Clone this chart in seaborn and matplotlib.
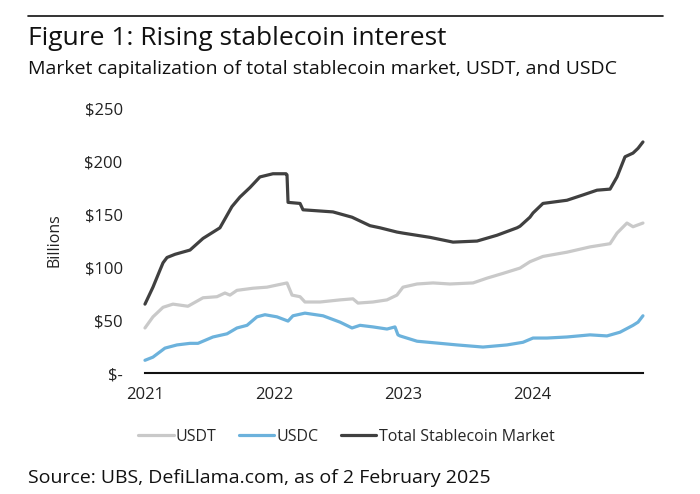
import numpy as np
import pandas as pd
import seaborn as sns
import matplotlib.pyplot as plt

# x positions in years (chart axis runs 2021 -> end of data)
total_x = [2021.000, 2021.062, 2021.116, 2021.140, 2021.171, 2021.233, 2021.349, 2021.450,
           2021.581, 2021.674, 2021.736, 2021.814, 2021.891, 2021.992, 2022.093, 2022.101,
           2022.109, 2022.202, 2022.225, 2022.457, 2022.605, 2022.744, 2022.822, 2022.953,
           2023.000, 2023.209, 2023.388, 2023.574, 2023.729, 2023.884, 2023.907, 2023.984,
           2024.008, 2024.085, 2024.271, 2024.395, 2024.504, 2024.605, 2024.659, 2024.721,
           2024.783, 2024.822, 2024.860]
total_y = [65, 81, 97, 104, 109, 112, 116, 127,
           137, 157, 166, 175, 185, 188, 188, 187,
           161, 160, 154, 152, 147, 139, 137, 133,
           132, 128, 123.5, 124.5, 130, 137, 138.5, 147,
           151, 160, 163, 168, 172.5, 173.5, 185, 204,
           207.5, 212, 218]

usdt_x = [2021.000, 2021.062, 2021.140, 2021.217, 2021.333, 2021.450, 2021.558, 2021.620,
          2021.659, 2021.713, 2021.837, 2021.946, 2022.023, 2022.101, 2022.140, 2022.202,
          2022.240, 2022.357, 2022.512, 2022.612, 2022.651, 2022.767, 2022.876, 2022.953,
          2023.000, 2023.109, 2023.233, 2023.364, 2023.543, 2023.651, 2023.775, 2023.907,
          2023.984, 2024.085, 2024.271, 2024.450, 2024.605, 2024.659, 2024.736, 2024.783,
          2024.860]
usdt_y = [42.5, 53, 62, 65, 63, 71, 72, 75.5,
          73.5, 78, 80, 81, 83, 85, 73.5, 72,
          67, 67, 69, 70, 66, 67, 69, 73.5,
          81, 84, 85, 84, 85, 89.5, 94, 99,
          105, 110, 114, 119, 122, 132, 141.5, 138,
          141.5]

usdc_x = [2021.000, 2021.062, 2021.155, 2021.248, 2021.349, 2021.411, 2021.527, 2021.636,
          2021.713, 2021.791, 2021.868, 2021.930, 2022.023, 2022.109, 2022.147, 2022.240,
          2022.380, 2022.512, 2022.605, 2022.667, 2022.767, 2022.876, 2022.938, 2022.961,
          2022.977, 2023.109, 2023.287, 2023.419, 2023.620, 2023.806, 2023.930, 2024.008,
          2024.116, 2024.271, 2024.450, 2024.581, 2024.682, 2024.783, 2024.822, 2024.860]
usdc_y = [12, 15, 23.5, 26.5, 28, 28, 34, 37,
          42.5, 45, 53, 55, 53, 49, 54, 56.5,
          54, 48, 42.5, 45, 43.5, 41.5, 43.5, 36,
          35, 30, 28, 26.5, 24.5, 26.5, 29, 33,
          33, 34, 36, 35, 38.5, 45, 48, 54]

series_names = ["USDT", "USDC", "Total Stablecoin Market"]
colors = ["#c9c9c9", "#6cb2dc", "#404040"]
y_ticks = [0, 50, 100, 150, 200, 250]
y_labels = ["$-", "$50", "$100", "$150", "$200", "$250"]
x_ticks = [2021, 2022, 2023, 2024]

df = pd.concat([
    pd.DataFrame({"year": usdt_x, "value": usdt_y, "series": series_names[0]}),
    pd.DataFrame({"year": usdc_x, "value": usdc_y, "series": series_names[1]}),
    pd.DataFrame({"year": total_x, "value": total_y, "series": series_names[2]}),
])

sns.set_style("white")
plt.rcParams['font.family'] = ['Open Sans', 'DejaVu Sans']

fig = plt.figure(figsize=(7, 4.94), dpi=100)
ax = fig.add_axes([0.2071, 0.2449, 0.7114, 0.5364])

sns.lineplot(data=df, x="year", y="value", hue="series", hue_order=series_names,
             palette=colors, linewidth=2.3, estimator=None, sort=False, ax=ax)

ax.set_xlim(min(total_x), max(total_x))
ax.set_ylim(0, 250)
ax.set_yticks(y_ticks)
ax.set_yticklabels(y_labels)
ax.set_xticks(x_ticks)
ax.set_xticklabels([str(t) for t in x_ticks])
ax.tick_params(axis="both", length=0, labelsize=12, colors="#222222")
ax.tick_params(axis="y", pad=16)
ax.tick_params(axis="x", pad=10)
ax.set_xlabel("")
ax.set_ylabel("Billions", fontsize=11.5, color="#222222", labelpad=16)
for s in ["top", "right", "left"]:
    ax.spines[s].set_visible(False)
ax.spines["bottom"].set_color("#111111")
ax.spines["bottom"].set_linewidth(1.5)
for line in ax.lines:
    line.set_clip_on(False)

ax.legend(loc="center left", bbox_to_anchor=(-0.026, -0.24), ncol=3, frameon=False,
          fontsize=11.5, handlelength=2.2, handletextpad=0.15, columnspacing=1.4,
          borderaxespad=0)

fig.add_artist(plt.Line2D([0.04, 0.947], [0.968, 0.968], color="#111111", linewidth=1.2))
fig.text(0.04, 0.909, "Figure 1: Rising stablecoin interest", fontsize=19, va="baseline",
         color="#111111")
fig.text(0.04, 0.850, "Market capitalization of total stablecoin market, USDT, and USDC",
         fontsize=14, va="baseline", color="#111111")
fig.text(0.04, 0.022, "Source: UBS, DefiLlama.com, as of 2 February 2025", fontsize=14,
         va="baseline", color="#111111")

fig.savefig("out.png", dpi=100)
